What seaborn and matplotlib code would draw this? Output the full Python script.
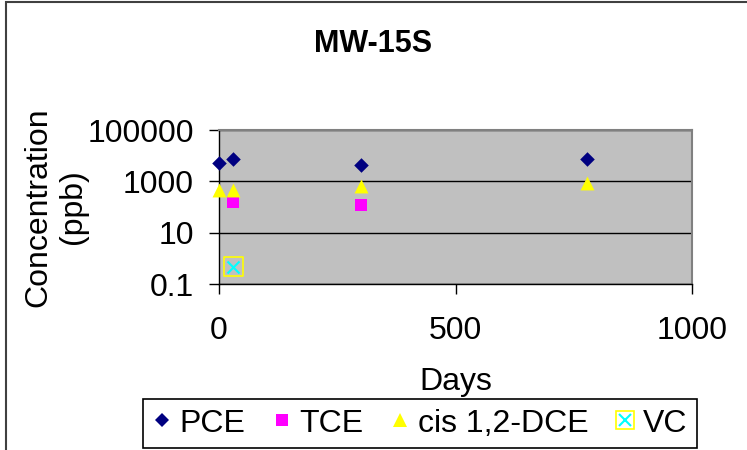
import matplotlib
matplotlib.use("Agg")
import matplotlib.pyplot as plt
import seaborn as sns
import pandas as pd
from matplotlib.lines import Line2D
from matplotlib.patches import Rectangle
from matplotlib.ticker import FixedLocator, FixedFormatter, NullLocator

plt.rcParams['font.family'] = ['Liberation Sans', 'DejaVu Sans']

# values (days, ppb)
pce_days = [0, 30, 300, 778]
pce_conc = [5300, 7400, 4300, 7600]
tce_days = [30, 300]
tce_conc = [160, 115]
dce_days = [0, 30, 300, 778]
dce_conc = [480, 480, 630, 890]
vc_days = [30]
vc_conc = [0.47]

y_ticks = [0.1, 10, 1000, 100000]
y_labels = ['0.1', '10', '1000', '100000']
x_ticks = [0, 500, 1000]

fs = 23

fig = plt.figure(figsize=(7.47, 4.5), dpi=100)
ax = fig.add_axes([219 / 747, 1 - 284 / 450, 473 / 747, 154 / 450])
ax.set_facecolor('#C0C0C0')

pce = pd.DataFrame({'days': pce_days, 'conc': pce_conc})
tce = pd.DataFrame({'days': tce_days, 'conc': tce_conc})
dce = pd.DataFrame({'days': dce_days, 'conc': dce_conc})
vc = pd.DataFrame({'days': vc_days, 'conc': vc_conc})

sns.scatterplot(data=pce, x='days', y='conc', ax=ax, marker='D', s=55,
                color='#000080', linewidth=0, zorder=5, clip_on=False)
sns.scatterplot(data=tce, x='days', y='conc', ax=ax, marker='s', s=75,
                color='#FF00FF', linewidth=0, zorder=5)
sns.scatterplot(data=dce, x='days', y='conc', ax=ax, marker='^', s=100,
                color='#FFFF00', linewidth=0, zorder=5, clip_on=False)
sns.scatterplot(data=vc, x='days', y='conc', ax=ax, marker='s', s=180,
                facecolor='none', edgecolor='#FFFF00', linewidth=1.2, zorder=5)
sns.scatterplot(data=vc, x='days', y='conc', ax=ax, marker='x', s=75,
                color='#00FFFF', linewidth=1.5, zorder=6)

ax.set_yscale('log')
ax.set_ylim(0.1, 100000)
ax.set_xlim(0, 1000)
ax.yaxis.set_major_locator(FixedLocator(y_ticks))
ax.yaxis.set_major_formatter(FixedFormatter(y_labels))
ax.yaxis.set_minor_locator(NullLocator())
ax.set_xticks(x_ticks)
ax.set_xticklabels([str(t) for t in x_ticks])

ax.grid(axis='y', color='black', linewidth=1.0)
ax.set_axisbelow(True)
for side in ['left', 'bottom']:
    ax.spines[side].set_color('black')
    ax.spines[side].set_linewidth(1.0)
for side in ['top', 'right']:
    ax.spines[side].set_color('#808080')
    ax.spines[side].set_linewidth(1.5)

ax.tick_params(axis='both', labelsize=fs, direction='out', length=7, width=1, color='black')
ax.tick_params(axis='y', pad=11)
ax.tick_params(axis='x', pad=16)

ax.set_xlabel('Days', fontsize=fs, labelpad=15)
ax.set_ylabel('Concentration\n(ppb)', fontsize=fs, labelpad=0, linespacing=1.2)
fig.text(0.5, 1 - 44 / 450, 'MW-15S', ha='center', va='center',
         fontsize=22, fontweight='bold')

handles = [
    Line2D([], [], marker='D', linestyle='none', color='#000080', markersize=7, markeredgewidth=0),
    Line2D([], [], marker='s', linestyle='none', color='#FF00FF', markersize=8.5, markeredgewidth=0),
    Line2D([], [], marker='^', linestyle='none', color='#FFFF00', markersize=10, markeredgewidth=0),
    (Line2D([], [], marker='s', linestyle='none', markerfacecolor='none',
            markeredgecolor='#FFFF00', markersize=13, markeredgewidth=1.2),
     Line2D([], [], marker='x', linestyle='none', color='#00FFFF', markersize=8.5, markeredgewidth=1.5)),
]
labels = ['PCE', 'TCE', 'cis 1,2-DCE', 'VC']
leg = fig.legend(handles, labels, loc='lower center', bbox_to_anchor=(0.562, 0.004),
                 ncol=4, fontsize=fs, frameon=True, fancybox=False, framealpha=1,
                 edgecolor='black', handlelength=0.6, handletextpad=0.25,
                 columnspacing=0.85, borderpad=0.3, borderaxespad=0)
leg.get_frame().set_linewidth(1.2)
leg.set_zorder(10)

fig.patches.append(Rectangle((6 / 747, -0.1), 1.5, 1 - 2 / 450 + 0.1,
                             transform=fig.transFigure, fill=False,
                             edgecolor='#404040', linewidth=1.5))

fig.savefig('out.png', dpi=100)
